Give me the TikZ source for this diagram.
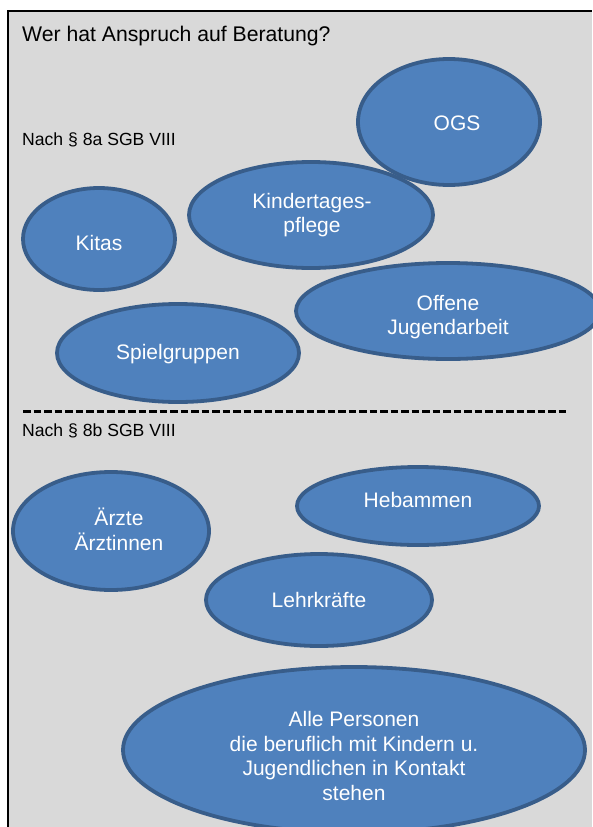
\documentclass[tikz,border=0pt]{standalone}
\usepackage{fontspec}
\setmainfont{Liberation Sans}
\usetikzlibrary{shapes.geometric}
\definecolor{bgray}{HTML}{D9D9D9}
\definecolor{efill}{HTML}{4F81BD}
\definecolor{edraw}{HTML}{385D8A}
\tikzset{
  blob/.style={ellipse, draw=edraw, fill=efill, line width=3.8pt, inner sep=0pt},
  blobtext/.style={text=white, align=center, inner sep=0pt, font=\fontsize{21}{24.8}\selectfont},
  headtext/.style={anchor=base west, font=\fontsize{21.2}{24}\selectfont, inner sep=0pt},
  subtext/.style={anchor=base west, font=\fontsize{17.6}{20}\selectfont, inner sep=0pt},
}
\begin{document}
\begin{tikzpicture}[x=1pt,y=-1pt]
\useasboundingbox (0,0) rectangle (592,827);
\fill[white] (0,0) rectangle (592,827);
\fill[bgray] (8,11) rectangle (592,827);
\draw[black, line width=2.5pt] (8,827) -- (8,11) -- (592,11);
\node[headtext] (title) at (22,41) {Wer hat Anspruch auf Beratung?};
\node[subtext] (sa) at (22,145) {Nach § 8a SGB VIII};
\node[blob, minimum width=182pt, minimum height=126pt] (ogs) at (449,122) {};
\node[blobtext] (ogst) at ([shift={(8,1)}]ogs.center) {OGS};
\node[blob, minimum width=244pt, minimum height=106pt] (ktp) at (311,215) {};
\node[blobtext] (ktpt) at ([shift={(1,0)}]ktp.center) {Kindertages-\\pflege};
\node[blob, minimum width=152pt, minimum height=102pt] (kitas) at (99,239) {};
\node[blobtext] (kitast) at ([shift={(0,4)}]kitas.center) {Kitas};
\node[blob, minimum width=304pt, minimum height=96pt] (oja) at (448,311) {};
\node[blobtext] (ojat) at ([shift={(0,6)}]oja.center) {Offene\\Jugendarbeit};
\node[blob, minimum width=242pt, minimum height=98pt] (spg) at (178,353) {};
\node[blobtext] (spgt) at ([shift={(0,1)}]spg.center) {Spielgruppen};
\coordinate (dl) at (23,411);
\coordinate (dr) at (569,411);
\draw[black, line width=3pt, dash pattern=on 7.5pt off 3pt] (dl) -- (dr);
\node[subtext] (sb) at (22,436) {Nach § 8b SGB VIII};
\node[blob, minimum width=196pt, minimum height=118pt] (arzt) at (111,531) {};
\node[blobtext] (arztt) at ([shift={(8,-2)}]arzt.center) {Ärzte\\Ärztinnen};
\node[blob, minimum width=242pt, minimum height=78pt] (heb) at (418,506) {};
\node[blobtext] (hebt) at ([shift={(0,-6)}]heb.center) {Hebammen};
\node[blob, minimum width=226pt, minimum height=92pt] (lehr) at (319,600) {};
\node[blobtext] (lehrt) at (lehr.center) {Lehrkräfte};
\node[blob, minimum width=462pt, minimum height=166pt] (alle) at (354,750) {};
\node[blobtext] (allet) at ([shift={(0,6)}]alle.center) {Alle Personen\\die beruflich mit Kindern u.\\Jugendlichen in Kontakt\\stehen};
\end{tikzpicture}
\end{document}
